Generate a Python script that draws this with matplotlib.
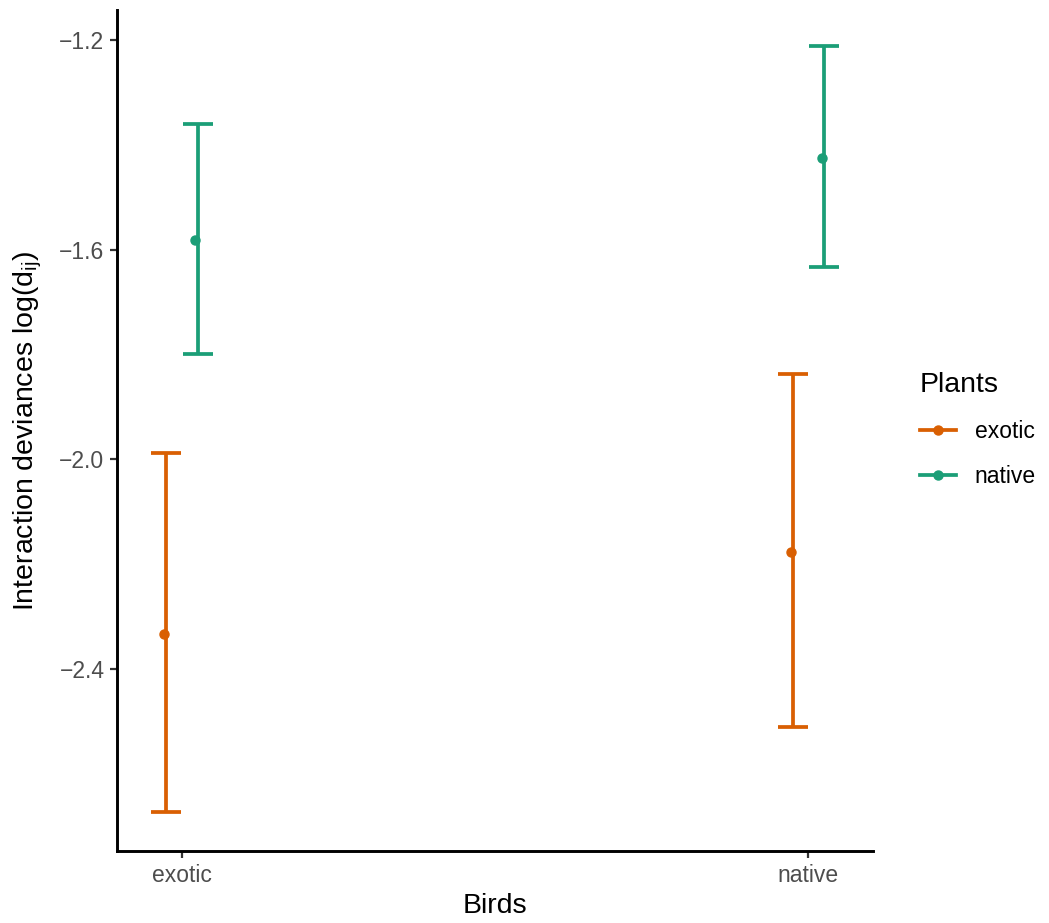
import numpy as np
import matplotlib
matplotlib.use("Agg")
import matplotlib.pyplot as plt
from matplotlib.lines import Line2D

plt.rcParams['font.family'] = ['Liberation Sans', 'DejaVu Sans']
plt.rcParams['mathtext.fontset'] = 'custom'
plt.rcParams['mathtext.rm'] = 'Liberation Sans'
plt.rcParams['mathtext.it'] = 'Liberation Sans'

# data
birds = ["exotic", "native"]
plants = ["exotic", "native"]
means = {"exotic": [-2.333, -2.177], "native": [-1.581, -1.425]}
lower = {"exotic": [-2.672, -2.510], "native": [-1.799, -1.633]}
upper = {"exotic": [-1.988, -1.837], "native": [-1.360, -1.211]}
colors = {"exotic": "#D95F02", "native": "#1B9E77"}

fig = plt.figure(figsize=(10.49, 9.23), dpi=100)
ax = fig.add_axes([117 / 1049, 1 - 851 / 923, (873 - 117) / 1049, (851 - 10) / 923])

xbase = np.arange(1, len(birds) + 1)
dodge = {"exotic": -0.025, "native": 0.025}
for p in plants:
    xe = xbase + dodge[p]
    m = np.array(means[p])
    lo = m - np.array(lower[p])
    hi = np.array(upper[p]) - m
    ax.errorbar(xe, m, yerr=[lo, hi], fmt='none', ecolor=colors[p],
                elinewidth=2.7, capsize=11, capthick=2.7, zorder=2)
    ax.plot(xe - 0.0037, m, 'o', color=colors[p], markersize=6.5, zorder=3)

ax.set_xlim(0.896, 2.103)
ax.set_ylim(-2.747, -1.143)
ax.set_xticks(xbase)
ax.set_xticklabels(birds)
ax.set_yticks([-2.4, -2.0, -1.6, -1.2])
ax.set_yticklabels(["\u22122.4", "\u22122.0", "\u22121.6", "\u22121.2"])
for s in ["top", "right"]:
    ax.spines[s].set_visible(False)
for s in ["left", "bottom"]:
    ax.spines[s].set_linewidth(2.1)
ax.tick_params(axis='both', labelsize=16.5, labelcolor='#4D4D4D', color='#333333',
               length=5, width=1.6, pad=4)
ax.set_xlabel("Birds", fontsize=20.5, labelpad=5)
ax.set_ylabel(r"Interaction deviances log(d$_\mathregular{ij}$)", fontsize=20.5, labelpad=11)

handles = [Line2D([0], [0], color=colors[p], lw=2.7, marker='o', markersize=6.5) for p in plants]
leg = fig.legend(handles, plants, title="Plants", loc='center left',
                 bbox_to_anchor=(899 / 1049, 1 - 430 / 923), frameon=False,
                 fontsize=16.5, title_fontsize=20.5, handlelength=1.6,
                 labelspacing=0.95, alignment='left')

fig.savefig("out.png", dpi=100)
